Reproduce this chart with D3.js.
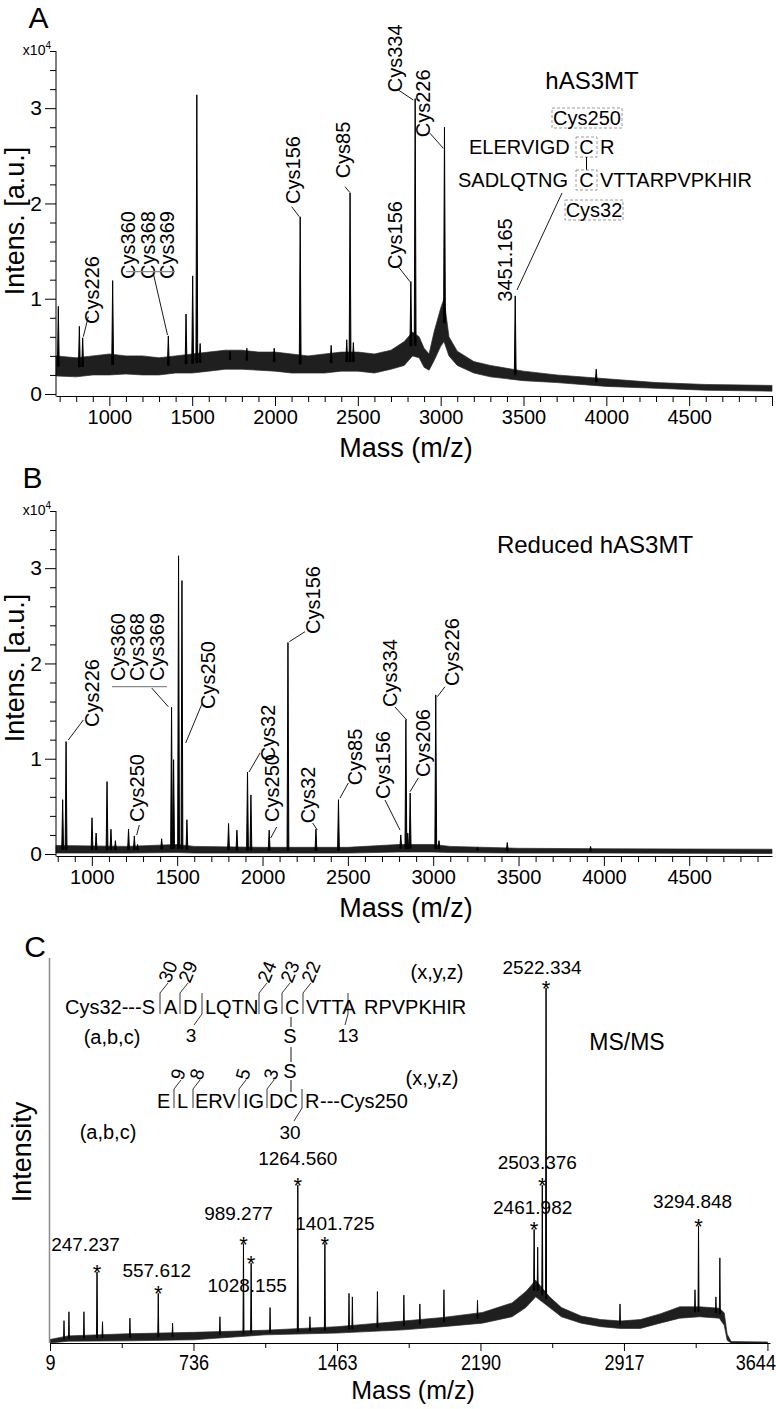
<!DOCTYPE html>
<html><head><meta charset="utf-8">
<script src="https://cdn.jsdelivr.net/npm/d3@7"></script>
<style>
body{margin:0;background:#fff;}
svg text{font-family:"Liberation Sans",Arial,Helvetica,sans-serif;fill:#000;}
</style></head><body>
<svg id="fig" width="776" height="1409" xmlns="http://www.w3.org/2000/svg"></svg>
<script>
// ---------------- DATA ----------------
// Panel A (hAS3MT), intensity in x10^4 a.u.
const peaksA_mz  = [692, 819, 839, 1020, 1356, 1463, 1503, 1528, 1548, 1729, 1830, 1995, 2152, 2339, 2433, 2453, 2473, 2820, 2846, 3023, 3450, 3939];
const peaksA_int = [0.92, 0.71, 0.59, 1.19, 0.61, 0.84, 1.24, 3.14, 0.53, 0.45, 0.48, 0.48, 1.86, 0.51, 0.57, 2.11, 0.54, 1.18, 3.10, 2.80, 1.03, 0.26];
const bandA_mz = [678, 800, 900, 1000, 1100, 1200, 1300, 1400, 1500, 1600, 1700, 1800, 1900, 2000, 2100, 2200, 2300, 2400, 2500, 2600, 2700, 2780, 2830, 2870, 2900, 2930, 2960, 3000, 3020, 3050, 3100, 3200, 3300, 3500, 3700, 4000, 4300, 4600, 5000];
const bandA_lo = [0.19, 0.18, 0.20, 0.20, 0.21, 0.20, 0.20, 0.22, 0.22, 0.24, 0.26, 0.26, 0.25, 0.24, 0.22, 0.22, 0.22, 0.24, 0.24, 0.22, 0.26, 0.30, 0.40, 0.38, 0.28, 0.25, 0.35, 0.50, 0.55, 0.40, 0.30, 0.22, 0.18, 0.14, 0.12, 0.08, 0.06, 0.04, 0.03];
const bandA_hi = [0.40, 0.38, 0.40, 0.42, 0.40, 0.40, 0.38, 0.40, 0.42, 0.44, 0.46, 0.46, 0.44, 0.44, 0.42, 0.40, 0.42, 0.44, 0.44, 0.42, 0.46, 0.55, 0.65, 0.60, 0.48, 0.42, 0.65, 0.90, 1.00, 0.60, 0.45, 0.34, 0.30, 0.24, 0.20, 0.16, 0.12, 0.10, 0.09];

// Panel B (reduced hAS3MT)
const peaksB_mz  = [829, 849, 1001, 1025, 1089, 1112, 1138, 1215, 1249, 1268, 1409, 1467, 1479, 1508, 1528, 1557, 1801, 1850, 1912, 1932, 2039, 2149, 2313, 2445, 2810, 2840, 2851, 2865, 3015, 3034, 3259, 3434, 3922];
const peaksB_int = [0.57, 1.18, 0.38, 0.22, 0.76, 0.26, 0.14, 0.26, 0.19, 0.10, 0.16, 1.54, 0.99, 3.13, 2.87, 0.36, 0.32, 0.25, 0.86, 0.62, 0.25, 2.22, 0.26, 0.57, 0.20, 1.41, 0.22, 0.64, 1.67, 0.14, 0.07, 0.12, 0.08];
const bandB_mz = [790, 1200, 1500, 1600, 2000, 2500, 2800, 2900, 3000, 3100, 3500, 4000, 4985];
const bandB_lo = [0.010, 0.010, 0.015, 0.010, 0.010, 0.010, 0.020, 0.020, 0.020, 0.015, 0.010, 0.010, 0.005];
const bandB_hi = [0.090, 0.080, 0.100, 0.080, 0.070, 0.070, 0.100, 0.100, 0.100, 0.080, 0.060, 0.055, 0.050];

// Panel C (MS/MS), relative intensity (tallest = 100)
const labelsC    = ["247.237", "557.612", "989.277", "1028.155", "1264.560", "1401.725", "2461.982", "2503.376", "2522.334", "3294.848"];
const peaksC_mz  = [247.237, 557.612, 989.277, 1028.155, 1264.560, 1401.725, 2461.982, 2503.376, 2522.334, 3294.848];
const peaksC_int = [20, 14, 28, 22.5, 44.5, 28, 32, 44.5, 100, 33];
const minorC_mz  = [80, 105, 181, 275, 414, 630, 870, 1124, 1326, 1524, 1541, 1668, 1802, 1883, 2005, 2175, 2480, 2897, 3277, 3383, 3403];
const minorC_int = [6.3, 8.8, 8.8, 6, 7, 5.6, 7.4, 10, 7.4, 14, 13, 14.5, 13.5, 11, 15, 12, 27, 11, 15, 13, 24];
const bandC_mz = [9, 100, 400, 736, 1100, 1463, 1800, 2000, 2200, 2350, 2420, 2470, 2540, 2600, 2700, 2800, 2900, 3000, 3100, 3200, 3300, 3400, 3425, 3440, 3460, 3644];
const bandC_lo = [0, 0.5, 0.6, 0.9, 2.3, 2.8, 3.7, 4.6, 5.6, 7.4, 10, 13, 10, 7.4, 5.6, 4.6, 4.1, 4.1, 5.6, 7, 7.4, 7, 5, 0.8, 0, 0];
const bandC_hi = [1, 2, 2.6, 3, 3.6, 4.6, 6.2, 7.2, 8.6, 11.3, 14.5, 17.7, 13, 10, 7.6, 6.6, 6.2, 6.6, 8.2, 10.2, 10.2, 9.8, 8.5, 2.5, 0.4, 0.3];

// Tick labels
const ticksAB_x = [1000, 1500, 2000, 2500, 3000, 3500, 4000, 4500];
const ticksAB_y = [0, 1, 2, 3];
const ticksC_x  = [9, 736, 1463, 2190, 2917, 3644];
const ticksC_minor = [372.5, 1099.5, 1826.5, 2553.5, 3280.5];

// ---------------- LAYOUT ----------------
const svg = d3.select("#fig");
const FS = 20;

function txt(g, s, x, y, size, anchor) {
  return g.append("text").attr("x", x).attr("y", y).attr("font-size", size)
    .attr("text-anchor", anchor || "start").text(s);
}
function rtext(g, s, cx, cy, size, angle) {
  return g.append("text").attr("transform", `translate(${cx},${cy}) rotate(${angle === undefined ? -90 : angle})`)
    .attr("text-anchor", "middle").attr("dy", "0.35em").attr("font-size", size).text(s);
}
function seg(g, x1, y1, x2, y2, color, w, dash) {
  const l = g.append("line").attr("x1", x1).attr("y1", y1).attr("x2", x2).attr("y2", y2)
    .attr("stroke", color || "#000").attr("stroke-width", w || 1);
  if (dash) l.attr("stroke-dasharray", dash);
  return l;
}
function drawBand(g, x, y, mz, lo, hi) {
  const pts = mz.map((m, i) => ({m, lo: lo[i], hi: hi[i]}));
  g.append("path").datum(pts)
    .attr("d", d3.area().x(d => x(d.m)).y0(d => y(d.lo)).y1(d => y(d.hi)))
    .attr("fill", "#1f1f1f").attr("stroke", "#2a2a2a").attr("stroke-width", 0.7);
  const mid = lo.map((v, i) => (v + hi[i]) / 2);
  return d3.scaleLinear().domain(mz).range(mid).clamp(true);
}
function drawPeaks(g, x, y, mz, h, base, hw, sw) {
  g.append("g").selectAll("path").data(mz.map((m, i) => ({m, h: h[i]}))).join("path")
    .attr("d", d => {
      const xb = x(d.m), yb = y(base(d.m)), yt = y(d.h);
      return `M${xb - hw},${yb}L${xb},${yt}L${xb + hw},${yb}Z`;
    })
    .attr("fill", "#000").attr("stroke", "#000").attr("stroke-width", sw || 1).attr("stroke-linejoin", "miter");
}
function styleAxis(sel, size) {
  sel.attr("font-family", '"Liberation Sans",Arial,Helvetica,sans-serif').attr("font-size", size);
  sel.selectAll("text").attr("fill", "#000");
}

function panelAB(opt) {
  const g = svg.append("g");
  const x = d3.scaleLinear().domain(opt.xDomain).range([56, 772]);
  const y = d3.scaleLinear().domain([0, 3.6]).range([opt.y0, opt.y0 - 343]);
  const axisY = opt.y0 + 2;
  const base = drawBand(g, x, y, opt.bandMz, opt.bandLo, opt.bandHi);
  drawPeaks(g, x, y, opt.peakMz, opt.peakInt, base, 0.9, 1);

  // x axis: minor and major ticks
  const minor = d3.range(Math.ceil(opt.xDomain[0] / 100) * 100, opt.xDomain[1] + 1, 100).filter(v => v % 500 !== 0);
  g.append("g").attr("transform", `translate(0,${axisY})`)
    .call(d3.axisBottom(x).tickValues(minor).tickSize(6).tickFormat(""))
    .call(a => a.select(".domain").remove());
  const xa = g.append("g").attr("transform", `translate(0,${axisY})`)
    .call(d3.axisBottom(x).tickValues(ticksAB_x.concat(opt.xDomain[1] >= 4999 ? [5000] : [])).tickSize(10).tickPadding(4).tickSizeOuter(0)
      .tickFormat(d => d === 5000 ? "" : d));
  styleAxis(xa, 20);

  // y axis
  const yminor = d3.range(0, 3.61, 0.2).filter(v => Math.abs(v - Math.round(v)) > 0.01);
  g.append("g").attr("transform", "translate(56,0)")
    .call(d3.axisLeft(y).tickValues(yminor).tickSize(6).tickFormat(""))
    .call(a => a.select(".domain").remove());
  const ya = g.append("g").attr("transform", "translate(56,0)")
    .call(d3.axisLeft(y).tickValues(ticksAB_y).tickSize(11).tickPadding(3).tickFormat(d3.format("d")))
    .call(a => a.select(".domain").remove());
  styleAxis(ya, 21);
  seg(g, 56, y(3.6), 56, axisY + 0.5, "#000", 1);

  // x10^4
  const t = g.append("text").attr("x", 51).attr("y", y(3.6) + 4).attr("text-anchor", "end").attr("font-size", 14);
  t.append("tspan").text("x10");
  t.append("tspan").attr("font-size", 10).attr("dy", -6).text("4");

  // titles
  rtext(g, "Intens. [a.u.]", 15, opt.ylabY, 27);
  txt(g, "Mass (m/z)", 406, axisY + 61, 27, "middle");
  txt(g, opt.letter, opt.letterX, opt.y0 - 366, 30, "middle");

  // peak annotations
  opt.ann.forEach(a => {
    a.t.forEach((s, i) => rtext(g, s, a.cx[i], a.cy, FS));
    if (a.ul) seg(g, a.ul[0], a.ul[2], a.ul[1], a.ul[2], "#8a8a8a", 1.3);
    seg(g, a.l[0], a.l[1], a.l[2], a.l[3], "#000", 0.9);
  });
  return {g, x, y};
}

// ---------- Panel A ----------
const A = panelAB({
  xDomain: [678, 5000], y0: 394, ylabY: 221, letter: "A", letterX: 38.5,
  peakMz: peaksA_mz, peakInt: peaksA_int, bandMz: bandA_mz, bandLo: bandA_lo, bandHi: bandA_hi,
  ann: [
    {t: ["Cys226"], cx: [91.7], cy: 290, l: [88.3, 316.7, 83.3, 336.7]},
    {t: ["Cys360", "Cys368", "Cys369"], cx: [128.3, 148.3, 166.7], cy: 245, ul: [126, 175, 271.7], l: [153.3, 273.3, 167.5, 335]},
    {t: ["Cys156"], cx: [292.7], cy: 170, l: [291.7, 206.7, 299.3, 216.7]},
    {t: ["Cys85"], cx: [343.3], cy: 150, l: [345, 186.7, 350, 192.7]},
    {t: ["Cys334"], cx: [395], cy: 58.3, l: [398.3, 90, 413.3, 100]},
    {t: ["Cys226"], cx: [423.3], cy: 103.3, l: [430, 133.3, 443.3, 148.3]},
    {t: ["Cys156"], cx: [395], cy: 235, l: [398.3, 266.7, 410, 281.7]}
  ]
});
// Panel A inset: disulfide peptide
(function () {
  const g = A.g;
  txt(g, "hAS3MT", 592, 88.5, 24, "middle");
  g.append("rect").attr("x", 552).attr("y", 108).attr("width", 70).attr("height", 20)
    .attr("fill", "none").attr("stroke", "#9a9a9a").attr("stroke-dasharray", "3,2");
  txt(g, "Cys250", 587, 125, FS, "middle");
  txt(g, "ELERVIGD", 469, 154, FS);
  txt(g, "C", 586.5, 154, FS, "middle");
  txt(g, "R", 600, 154, FS);
  g.append("rect").attr("x", 576).attr("y", 137).attr("width", 21).attr("height", 20)
    .attr("fill", "none").attr("stroke", "#9a9a9a").attr("stroke-dasharray", "3,2");
  seg(g, 586.5, 157, 586.5, 170, "#000", 1);
  txt(g, "SADLQTNG", 458, 187, FS);
  txt(g, "C", 586.5, 187, FS, "middle");
  txt(g, "VTTARPVPKHIR", 600, 187, FS);
  g.append("rect").attr("x", 576).attr("y", 170).attr("width", 21).attr("height", 20)
    .attr("fill", "none").attr("stroke", "#9a9a9a").attr("stroke-dasharray", "3,2");
  g.append("rect").attr("x", 565).attr("y", 200).attr("width", 58).attr("height", 20)
    .attr("fill", "none").attr("stroke", "#9a9a9a").attr("stroke-dasharray", "3,2");
  txt(g, "Cys32", 594, 217, FS, "middle");
  seg(g, 562, 193, 517, 290, "#000", 0.9);
  rtext(g, "3451.165", 505, 260, FS);
})();

// ---------- Panel B ----------
const B = panelAB({
  xDomain: [790, 4985], y0: 854, ylabY: 668, letter: "B", letterX: 32.5,
  peakMz: peaksB_mz, peakInt: peaksB_int, bandMz: bandB_mz, bandLo: bandB_lo, bandHi: bandB_hi,
  ann: [
    {t: ["Cys226"], cx: [91.7], cy: 693, l: [83.3, 720, 68.3, 740]},
    {t: ["Cys360", "Cys368", "Cys369"], cx: [118.3, 136.7, 156.7], cy: 647, ul: [112, 167, 686.7], l: [151.7, 688, 168.3, 706.7]},
    {t: ["Cys250"], cx: [136.7], cy: 788, l: [139.3, 825, 136.7, 835]},
    {t: ["Cys250"], cx: [208.3], cy: 675, l: [202.3, 703, 185.7, 743]},
    {t: ["Cys32"], cx: [268.3], cy: 733, l: [260, 753, 249, 772]},
    {t: ["Cys250"], cx: [271.7], cy: 788, l: [276.7, 827, 270.7, 838]},
    {t: ["Cys156"], cx: [313.3], cy: 600, l: [305, 631.7, 289.3, 641.7]},
    {t: ["Cys32"], cx: [308.3], cy: 795, l: [312.7, 823, 317.3, 830]},
    {t: ["Cys85"], cx: [355], cy: 757, l: [348.3, 783, 340, 798]},
    {t: ["Cys156"], cx: [383.3], cy: 765, l: [385, 800, 400, 830]},
    {t: ["Cys334"], cx: [390], cy: 673, l: [395, 707, 406.7, 720]},
    {t: ["Cys206"], cx: [423.3], cy: 743, l: [418.3, 778, 410, 791.7]},
    {t: ["Cys226"], cx: [451.7], cy: 652, l: [445, 686.7, 437.3, 696.7]}
  ]
});
txt(B.g, "Reduced hAS3MT", 595, 553, 24, "middle");

// ---------- Panel C ----------
(function () {
  const g = svg.append("g");
  const x = d3.scaleLinear().domain([9, 3657]).range([50, 770]);
  const y = d3.scaleLinear().domain([0, 108.5]).range([1343, 958]);
  const base = drawBand(g, x, y, bandC_mz, bandC_lo, bandC_hi);
  drawPeaks(g, x, y, minorC_mz, minorC_int, base, 0.5, 0.9);
  drawPeaks(g, x, y, peaksC_mz, peaksC_int, base, 0.5, 1);

  // axes
  g.append("g").attr("transform", "translate(0,1343)")
    .call(d3.axisBottom(x).tickValues(ticksC_minor).tickSize(5).tickFormat(""))
    .call(a => a.select(".domain").remove());
  const xa = g.append("g").attr("transform", "translate(0,1343)")
    .call(d3.axisBottom(x).tickValues(ticksC_x).tickSize(8).tickPadding(3).tickSizeOuter(0).tickFormat(d3.format("d")));
  styleAxis(xa, 22);
  xa.selectAll(".tick text").attr("transform", "scale(0.82,1)");
  xa.selectAll(".tick text").filter(d => d === 3644).attr("text-anchor", "end").attr("x", 8 / 0.82);
  seg(g, 49.5, 958, 49.5, 1343, "#8c8c8c", 1.5);
  txt(g, "Mass (m/z)", 413, 1399, 25, "middle");
  rtext(g, "Intensity", 22, 1152, 27);
  txt(g, "C", 35, 957, 30, "middle");

  // peak labels and stars
  const labOff = [[-11.5, -28], [-1.5, -23], [-5, -31], [-4, 22], [0, -27], [10, -21], [-1.5, -22], [-5, -23], [-4, -21], [-6, -25]];
  peaksC_mz.forEach((m, i) => {
    const px = x(m), py = y(peaksC_int[i]);
    txt(g, "*", px, py + 8, 22, "middle");
    txt(g, labelsC[i], px + labOff[i][0], py + labOff[i][1] + 7, 19, "middle");
  });

  // sequence annotation
  const seq1 = [["Cys32---S", 65], ["A", 164], ["D", 183], ["LQTN", 205], ["G", 263], ["C", 285], ["VTTA", 306], ["RPVPKHIR", 364]];
  seq1.forEach(s => txt(g, s[0], s[1], 1014, FS));
  [160, 180, 202, 259, 282, 303, 348].forEach(bx => seg(g, bx, 993, bx, 1014, "#000", 0.8));
  [["30", 160], ["29", 180], ["24", 259], ["23", 282], ["22", 303]].forEach(n => {
    seg(g, n[1], 993, n[1] + 8, 983, "#000", 0.8);
    g.append("text").attr("transform", `translate(${n[1] + 10},984) rotate(-68)`).attr("font-size", 19).text(n[0]);
  });
  seg(g, 202, 1014, 194, 1025, "#000", 0.8);
  txt(g, "3", 191, 1042, 19, "middle");
  seg(g, 348, 1014, 345, 1025, "#000", 0.8);
  txt(g, "13", 348, 1042, 19, "middle");
  txt(g, "(a,b,c)", 112, 1044, FS, "middle");
  seg(g, 291, 1017, 291, 1027, "#000", 0.9);
  txt(g, "S", 290, 1043, FS, "middle");
  seg(g, 291, 1047, 291, 1062, "#000", 0.9);
  txt(g, "S", 290, 1078, FS, "middle");
  seg(g, 291, 1080, 291, 1092, "#000", 0.9);
  txt(g, "(x,y,z)", 437, 979, FS, "middle");

  const seq2 = [["E", 157], ["L", 177], ["ERV", 195], ["IG", 243], ["DC", 269], ["R", 305], ["---Cys250", 320]];
  seq2.forEach(s => txt(g, s[0], s[1], 1108, FS));
  [174, 193, 239, 267, 302].forEach(bx => seg(g, bx, 1089, bx, 1108, "#000", 0.8));
  [["9", 174], ["8", 193], ["5", 239], ["3", 267]].forEach(n => {
    seg(g, n[1], 1089, n[1] + 7, 1080, "#000", 0.8);
    g.append("text").attr("transform", `translate(${n[1] + 9},1081) rotate(-75)`).attr("font-size", 19).text(n[0]);
  });
  seg(g, 302, 1108, 294, 1121, "#000", 0.8);
  txt(g, "30", 290, 1139, 19, "middle");
  txt(g, "(a,b,c)", 108, 1139, FS, "middle");
  txt(g, "(x,y,z)", 432, 1085, FS, "middle");
  txt(g, "MS/MS", 627, 1050, 23, "middle");
})();
</script>
</body></html>
